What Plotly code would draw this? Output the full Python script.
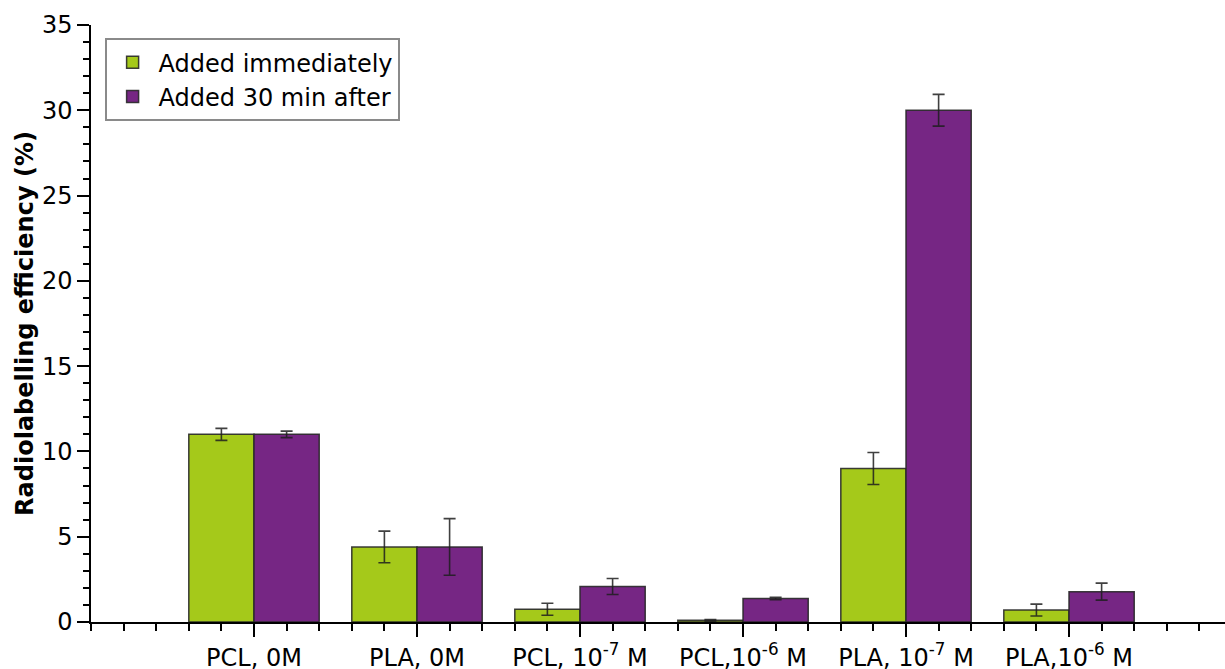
import plotly.graph_objects as go

categories = ["PCL, 0M", "PLA, 0M", "PCL, 10<sup>-7</sup> M", "PCL,10<sup>-6</sup> M",
              "PLA, 10<sup>-7</sup> M", "PLA,10<sup>-6</sup> M"]
immediate = [11.0, 4.4, 0.75, 0.1, 9.0, 0.7]
immediate_err = [0.35, 0.93, 0.35, 0.05, 0.94, 0.35]
after30 = [11.0, 4.4, 2.08, 1.38, 30.0, 1.78]
after30_err = [0.19, 1.66, 0.47, 0.07, 0.93, 0.5]
series_names = ["Added immediately", "Added 30 min after"]
yticks = [0, 5, 10, 15, 20, 25, 30, 35]

GREEN = "rgb(165,201,26)"
PURPLE = "rgb(118,38,132)"
FONT = "DejaVu Sans"

xpos = list(range(1, len(categories) + 1))

err_style = dict(type="data", visible=True, color="rgba(30,30,30,0.85)", thickness=1.6, width=6)
line_style = dict(color="rgba(40,40,40,0.9)", width=1.5)

fig = go.Figure()
fig.add_trace(go.Bar(
    x=xpos, y=immediate, name=series_names[0],
    marker=dict(color=GREEN, line=line_style),
    error_y=dict(array=immediate_err, **err_style),
))
fig.add_trace(go.Bar(
    x=xpos, y=after30, name=series_names[1],
    marker=dict(color=PURPLE, line=line_style),
    error_y=dict(array=after30_err, **err_style),
))

fig.update_layout(
    width=1225, height=669,
    margin=dict(l=91, r=0, t=25, b=47),
    paper_bgcolor="white", plot_bgcolor="white",
    barmode="group", bargap=0.2, bargroupgap=0.0,
    font=dict(family=FONT, color="black", size=23),
    legend=dict(
        x=0.012, y=0.978, xanchor="left", yanchor="top",
        bgcolor="white", bordercolor="#8a8a8a", borderwidth=2,
        font=dict(family=FONT, size=24, color="black"),
        tracegroupgap=0, itemwidth=42,
    ),
    showlegend=True,
)

fig.update_xaxes(
    range=[0, 6.957], automargin=False,
    tickmode="array", tickvals=xpos, ticktext=categories,
    ticks="outside", ticklen=13, tickwidth=1.5, tickcolor="black",
    showline=True, linecolor="black", linewidth=1.5,
    showgrid=False, zeroline=False,
    tickfont=dict(family=FONT, size=24, color="black"),
    minor=dict(tick0=0, dtick=0.2, ticks="outside", ticklen=7, tickwidth=1.5, tickcolor="black", showgrid=False),
)
fig.update_yaxes(
    range=[0, 35], automargin=False,
    tickmode="array", tickvals=yticks,
    ticks="outside", ticklen=12, tickwidth=1.5, tickcolor="black",
    showline=True, linecolor="black", linewidth=1.5,
    showgrid=False, zeroline=False,
    tickfont=dict(family=FONT, size=24, color="black"),
    minor=dict(dtick=1, ticks="outside", ticklen=6, tickwidth=1.5, tickcolor="black", showgrid=False),
    title=dict(text="<b>Radiolabelling efficiency (%)</b>", font=dict(family=FONT, size=24, color="black"), standoff=2),
)

fig.write_html("out.html")
